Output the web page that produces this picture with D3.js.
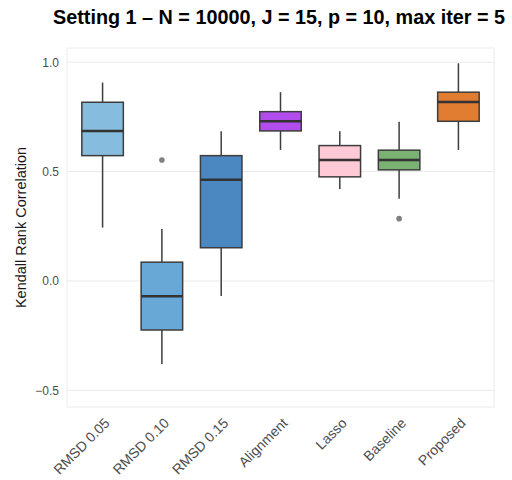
<!DOCTYPE html>
<html>
<head>
<meta charset="utf-8">
<script src="https://cdn.jsdelivr.net/npm/d3@7"></script>
<style>
  body { margin: 0; background: #fff; }
  svg { font-family: "Liberation Sans", Arial, sans-serif; }
</style>
</head>
<body>
<div id="chart"></div>
<script>
  // methods on the x axis
  let methods = ["RMSD 0.05", "RMSD 0.10", "RMSD 0.15", "Alignment", "Lasso", "Baseline", "Proposed"];
  // box stats: [low whisker, q1, median, q3, high whisker]
  let whiskLow = [0.244, -0.38, -0.069, 0.599, 0.421, 0.376, 0.599];
  let q1s      = [0.573, -0.224, 0.152, 0.686, 0.476, 0.508, 0.730];
  let medians  = [0.686, -0.070, 0.463, 0.730, 0.553, 0.553, 0.818];
  let q3s      = [0.817, 0.086, 0.573, 0.774, 0.619, 0.598, 0.863];
  let whiskHigh= [0.907, 0.238, 0.684, 0.863, 0.684, 0.728, 0.995];
  // outliers as [method index, value]
  let outliers = [[1, 0.553], [5, 0.285]];
  let colors = ["#86bcde", "#68a8d6", "#4b88c2", "#b14ced", "#ffc9d5", "#7bb274", "#e07d30"];
  let yTicks = [-0.5, 0.0, 0.5, 1.0];

  let W = 512, H = 480;
  let margin = { top: 48, right: 18, bottom: 73, left: 67 };
  let width = W - margin.left - margin.right;
  let height = H - margin.top - margin.bottom;

  let svg = d3.select("#chart").append("svg")
    .attr("width", W)
    .attr("height", H);

  let g = svg.append("g")
    .attr("transform", "translate(" + margin.left + "," + margin.top + ")");

  let x = d3.scalePoint()
    .domain(methods)
    .range([0, width])
    .padding(0.6);

  let y = d3.scaleLinear()
    .domain([-0.576, 1.065])
    .range([height, 0]);

  let boxW = x.step() * 0.7;

  // grid lines
  g.selectAll(".grid")
    .data(yTicks)
    .enter()
    .append("line")
      .attr("x1", 0)
      .attr("x2", width)
      .attr("y1", d => y(d))
      .attr("y2", d => y(d))
      .attr("stroke", "#ebebeb")
      .attr("stroke-width", 1);

  // frame
  g.append("rect")
    .attr("width", width)
    .attr("height", height)
    .attr("fill", "none")
    .attr("stroke", "#ebebeb")
    .attr("stroke-width", 1);

  // y axis labels
  let yAxis = g.append("g")
    .call(d3.axisLeft(y).tickValues(yTicks).tickSize(0).tickPadding(8)
      .tickFormat(d => d3.format(".1f")(d).replace("-", "\u2212")));
  yAxis.select(".domain").remove();
  yAxis.selectAll("text")
    .attr("fill", "#4d4d4d")
    .style("font-size", "12px")
    .style("font-family", "Liberation Sans, Arial, sans-serif");

  // x axis labels, rotated
  let xAxis = g.append("g")
    .attr("transform", "translate(0," + height + ")")
    .call(d3.axisBottom(x).tickSize(0));
  xAxis.select(".domain").remove();
  xAxis.selectAll("text")
    .attr("fill", "#4d4d4d")
    .style("font-size", "14px")
    .style("font-family", "Liberation Sans, Arial, sans-serif")
    .style("text-anchor", "end")
    .attr("x", 0)
    .attr("y", 0)
    .attr("dy", 0)
    .attr("transform", "translate(7.5,17) rotate(-45)");

  // whiskers
  methods.forEach((m, i) => {
    let cx = x(m);
    g.append("line")
      .attr("x1", cx).attr("x2", cx)
      .attr("y1", y(whiskHigh[i])).attr("y2", y(q3s[i]))
      .attr("stroke", "#3d3d3d").attr("stroke-width", 1.5);
    g.append("line")
      .attr("x1", cx).attr("x2", cx)
      .attr("y1", y(q1s[i])).attr("y2", y(whiskLow[i]))
      .attr("stroke", "#3d3d3d").attr("stroke-width", 1.5);
  });

  // boxes
  g.selectAll(".box")
    .data(methods)
    .enter()
    .append("rect")
      .attr("x", d => x(d) - boxW / 2)
      .attr("y", (d, i) => y(q3s[i]))
      .attr("width", boxW)
      .attr("height", (d, i) => y(q1s[i]) - y(q3s[i]))
      .attr("fill", (d, i) => colors[i])
      .attr("stroke", "#3d3d3d")
      .attr("stroke-width", 1.5);

  // medians
  g.selectAll(".median")
    .data(methods)
    .enter()
    .append("line")
      .attr("x1", d => x(d) - boxW / 2)
      .attr("x2", d => x(d) + boxW / 2)
      .attr("y1", (d, i) => y(medians[i]))
      .attr("y2", (d, i) => y(medians[i]))
      .attr("stroke", "#333")
      .attr("stroke-width", 2.5);

  // outliers
  g.selectAll(".outlier")
    .data(outliers)
    .enter()
    .append("circle")
      .attr("cx", d => x(methods[d[0]]))
      .attr("cy", d => y(d[1]))
      .attr("r", 2.8)
      .attr("fill", "#808080");

  // y label
  svg.append("text")
    .attr("transform", "translate(26," + (margin.top + height / 2) + ") rotate(-90)")
    .attr("text-anchor", "middle")
    .style("font-size", "14.5px")
    .attr("fill", "#1a1a1a")
    .text("Kendall Rank Correlation");

  // title
  svg.append("text")
    .attr("x", 279)
    .attr("y", 24)
    .attr("text-anchor", "middle")
    .style("font-size", "19.8px")
    .style("font-weight", "bold")
    .attr("fill", "#000")
    .text("Setting 1 \u2013 N = 10000, J = 15, p = 10, max iter = 5");
</script>
</body>
</html>
